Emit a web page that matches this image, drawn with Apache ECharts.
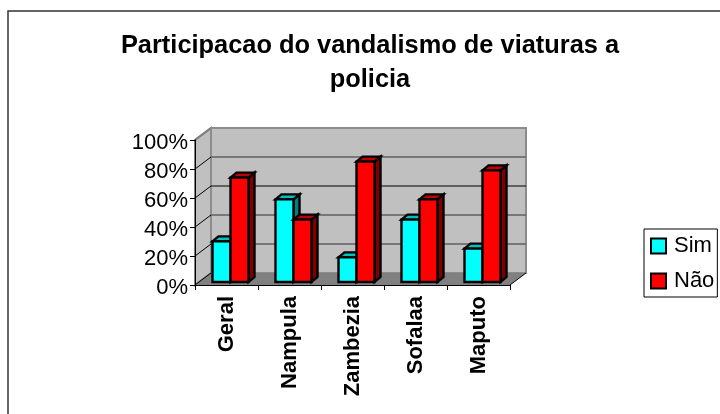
<!DOCTYPE html>
<html>
<head>
<meta charset="utf-8">
<script src="https://cdn.jsdelivr.net/npm/echarts@6/dist/echarts.min.js"></script>
<style>
html, body { margin: 0; padding: 0; background: #fff; }
#chart { width: 720px; height: 414px; }
</style>
</head>
<body>
<div id="chart"></div>
<script>
let categories = ['Geral', 'Nampula', 'Zambezia', 'Sofalaa', 'Maputo'];
let sim = [28, 57, 17, 43, 23];
let nao = [72, 43, 83, 57, 77];
let yTicks = [0, 20, 40, 60, 80, 100];

let font = '"Liberation Sans", Arial, sans-serif';
// 3d look: depth of the box and of the bars, in px
let wallX = 16, wallY = 12;
let barDepthX = 6, barDepthY = 5;
let barShiftX = 4, barShiftY = 3;
let barW = 18;

function renderWalls(params, api) {
    let c = params.coordSys;
    let left = c.x, right = c.x + c.width, top = c.y, bottom = c.y + c.height;
    let children = [
        {type: 'polygon', shape: {points: [[left, bottom], [left + wallX, bottom - wallY], [left + wallX, top - wallY], [left, top]]},
            style: {fill: '#c0c0c0', stroke: '#808080', lineWidth: 2}},
        {type: 'rect', shape: {x: left + wallX, y: top - wallY, width: c.width, height: c.height},
            style: {fill: '#c0c0c0', stroke: '#8c8c8c', lineWidth: 2}},
        {type: 'polygon', shape: {points: [[left, bottom], [left + wallX, bottom - wallY], [right + wallX, bottom - wallY], [right, bottom]]},
            style: {fill: '#808080'}},
        {type: 'line', shape: {x1: right, y1: bottom, x2: right + wallX, y2: bottom - wallY}, style: {stroke: '#000', lineWidth: 1}}
    ];
    yTicks.forEach(function (t) {
        let y = api.coord([0, t])[1];
        if (t > 0 && t < 100) {
            children.push({type: 'line', shape: {x1: left + wallX, y1: y - wallY, x2: right + wallX, y2: y - wallY},
                style: {stroke: t === 60 ? '#000' : '#606060', lineWidth: t === 60 ? 1 : 1.5}});
        }
        children.push({type: 'line', shape: {x1: left, y1: y, x2: left + wallX, y2: y - wallY},
            style: {stroke: t < 100 ? '#000' : '#808080', lineWidth: t < 100 ? 1 : 2}});
    });
    return {type: 'group', children: children};
}

function barRenderer(offset, colors) {
    return function (params, api) {
        let p = api.coord([api.value(0), api.value(1)]);
        let b = api.coord([api.value(0), 0]);
        let x0 = p[0] + barShiftX + offset * barW;
        let x1 = x0 + barW;
        let yT = p[1] - barShiftY;
        let yB = b[1] - barShiftY;
        let stroke = {stroke: '#000', lineWidth: 2.4, lineJoin: 'miter'};
        return {type: 'group', children: [
            {type: 'polygon', shape: {points: [[x1, yT], [x1 + barDepthX, yT - barDepthY], [x1 + barDepthX, yB - barDepthY], [x1, yB]]},
                style: Object.assign({fill: colors[1]}, stroke)},
            {type: 'polygon', shape: {points: [[x0, yT], [x0 + barDepthX, yT - barDepthY], [x1 + barDepthX, yT - barDepthY], [x1, yT]]},
                style: Object.assign({fill: colors[2]}, stroke)},
            {type: 'rect', shape: {x: x0, y: yT, width: barW, height: yB - yT},
                style: Object.assign({fill: colors[0]}, stroke)}
        ]};
    };
}

let myChart = echarts.init(document.getElementById('chart'));
let option = {
    backgroundColor: '#fff',
    animation: false,
    title: {
        text: 'Participacao do vandalismo de viaturas a\npolicia',
        left: 365,
        top: 24,
        textAlign: 'center',
        textStyle: {fontFamily: font, fontSize: 25.4, fontWeight: 'bold', color: '#000', lineHeight: 34}
    },
    graphic: [{
        type: 'rect',
        shape: {x: 8, y: 11, width: 800, height: 500},
        style: {fill: 'none', stroke: '#333', lineWidth: 1.5},
        z: -1
    }],
    legend: {
        orient: 'vertical',
        left: 644,
        top: 229,
        data: [{name: 'Sim', icon: 'rect'}, {name: 'Não', icon: 'rect'}],
        itemWidth: 15,
        itemHeight: 15,
        itemGap: 13,
        padding: [6, 3, 5, 6],
        borderColor: '#000',
        borderWidth: 1,
        backgroundColor: '#fff',
        textStyle: {fontFamily: font, fontSize: 22, color: '#000', padding: [2, 0, 0, 3]}
    },
    grid: {left: 195, right: 210, top: 140, bottom: 129},
    xAxis: {
        type: 'category',
        data: categories,
        axisLine: {show: true, lineStyle: {color: '#000', width: 1}},
        axisTick: {show: true, length: 5, lineStyle: {color: '#000'}},
        axisLabel: {rotate: 90, margin: 11, fontFamily: font, fontSize: 22, fontWeight: 'bold', color: '#000'},
        z: 5
    },
    yAxis: {
        type: 'value',
        min: 0,
        max: 100,
        interval: 20,
        axisLine: {show: true, lineStyle: {color: '#000', width: 1}},
        axisTick: {show: true, length: 5, lineStyle: {color: '#000'}},
        axisLabel: {
            formatter: '{a|{value}%}',
            margin: 7,
            rich: {a: {fontFamily: font, fontSize: 22, color: '#000', padding: [5, 0, 0, 0]}}
        },
        splitLine: {show: false},
        z: 5
    },
    series: [
        {
            name: 'walls',
            type: 'custom',
            data: [[0, 0]],
            renderItem: renderWalls,
            clip: false,
            silent: true,
            z: 1
        },
        {
            name: 'Sim',
            type: 'custom',
            data: sim.map(function (v, i) { return [i, v]; }),
            renderItem: barRenderer(-1, ['#00ffff', '#008080', '#00c0c0']),
            itemStyle: {color: '#00ffff', borderColor: '#000', borderWidth: 2, borderJoin: 'miter'},
            clip: false,
            z: 2
        },
        {
            name: 'Não',
            type: 'custom',
            data: nao.map(function (v, i) { return [i, v]; }),
            renderItem: barRenderer(0, ['#ff0000', '#800000', '#c00000']),
            itemStyle: {color: '#ff0000', borderColor: '#000', borderWidth: 2, borderJoin: 'miter'},
            clip: false,
            z: 3
        }
    ]
};
myChart.setOption(option);
</script>
</body>
</html>
